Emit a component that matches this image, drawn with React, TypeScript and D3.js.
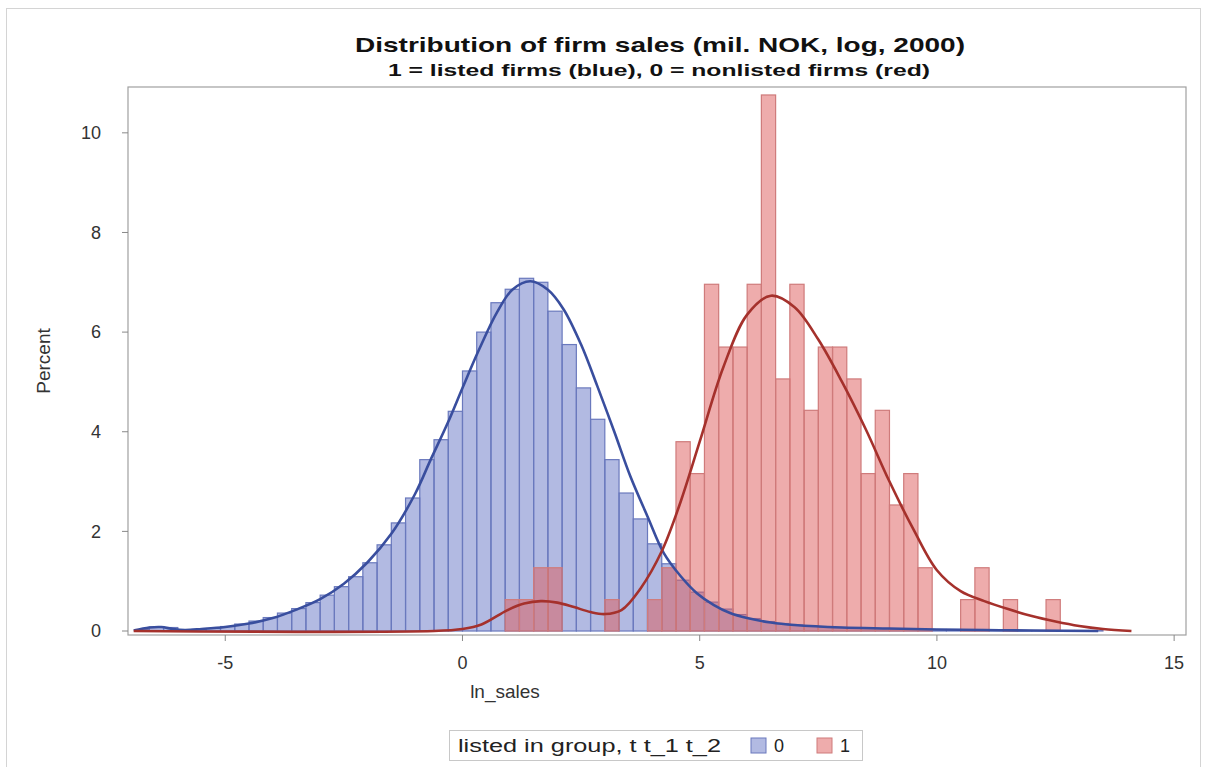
import * as d3 from "d3";

// histogram bins (lower edges, width 0.3) shared by both groups
const binWidth = 0.3;
const binStarts = d3.range(68).map((i) => +(-6.9 + i * binWidth).toFixed(1));

// percent of firms in each bin, group 0 (blue)
const blueBars = [
	0.03, 0.08, 0.07, 0.02, 0.03, 0.05, 0.09, 0.14, 0.2, 0.27, 0.36, 0.45, 0.57,
	0.72, 0.89, 1.09, 1.37, 1.73, 2.17, 2.67, 3.44, 3.84, 4.41,
	5.22, 6.0, 6.59, 6.86, 7.08, 7.0, 6.42, 5.75, 4.88, 4.25, 3.44, 2.77, 2.25,
	1.75, 1.35, 1.02, 0.78, 0.58, 0.44, 0.33, 0.25, 0.19, 0.15, 0.12, 0.1, 0.08,
	0.07, 0.06, 0.05, 0.05, 0.04, 0.04, 0.03, 0.03, 0.03, 0.02, 0.02, 0.02, 0.02,
	0.01, 0.01, 0.01, 0.01, 0.01, 0.01,
];

// group 1 (red)
const redBars = [
	0, 0, 0, 0, 0, 0, 0, 0, 0, 0, 0, 0, 0, 0, 0, 0, 0, 0, 0, 0, 0, 0, 0,
	0, 0, 0, 0.63, 0.63, 1.27, 1.27, 0, 0, 0, 0.63, 0, 0, 0.63, 1.27, 3.8, 3.16,
	6.96, 5.7, 5.7, 6.96, 10.76, 5.06, 6.96, 4.43, 5.7, 5.7, 5.06, 3.16, 4.43,
	2.53, 3.16, 1.27, 0, 0, 0.63, 1.27, 0, 0.63, 0, 0, 0.63, 0, 0, 0,
];

// kernel density curves, [ln_sales, percent]
const blueCurve: [number, number][] = [
	[-6.93, 0.01], [-6.6, 0.07], [-6.35, 0.08], [-6.1, 0.04], [-5.85, 0.02],
	[-5.5, 0.04], [-5.0, 0.08], [-4.5, 0.15], [-4.0, 0.26], [-3.5, 0.43],
	[-3.0, 0.64], [-2.5, 0.95], [-2.0, 1.38], [-1.5, 1.95], [-1.0, 2.75],
	[-0.67, 3.44], [-0.3, 4.2], [0.0, 4.88], [0.35, 5.65], [0.73, 6.4],
	[1.05, 6.85], [1.43, 7.02], [1.8, 6.85], [2.13, 6.46], [2.5, 5.75],
	[2.84, 4.92], [3.2, 4.0], [3.54, 3.1], [3.9, 2.3], [4.24, 1.57], [4.6, 1.1],
	[4.94, 0.76], [5.3, 0.52], [5.64, 0.36], [6.0, 0.26], [6.5, 0.17],
	[7.0, 0.12], [8.0, 0.07], [9.0, 0.05], [10.0, 0.03], [11.0, 0.02],
	[12.0, 0.01], [13.4, 0.0],
];

const redCurve: [number, number][] = [
	[-6.93, 0], [-0.6, 0.0], [0.0, 0.04], [0.4, 0.13], [0.95, 0.42], [1.3, 0.55],
	[1.65, 0.6], [2.0, 0.57], [2.35, 0.48], [2.7, 0.38], [3.0, 0.34],
	[3.35, 0.42], [3.75, 0.85], [4.2, 1.6], [4.6, 2.6], [5.0, 3.8],
	[5.5, 5.3], [6.0, 6.35], [6.5, 6.73], [7.0, 6.5], [7.5, 5.85], [8.0, 5.0],
	[8.5, 4.05], [9.0, 3.0], [9.5, 2.05], [10.0, 1.22], [10.5, 0.8],
	[11.0, 0.6], [11.5, 0.44], [12.0, 0.3], [12.5, 0.19], [13.0, 0.1],
	[13.5, 0.04], [14.1, 0.0],
];

const xTicks = [-5, 0, 5, 10, 15];
const yTicks = [0, 2, 4, 6, 8, 10];
const legendItems = ["0", "1"];

const W = 1205;
const H = 767;
const plot = { left: 128, right: 1186, top: 87, bottom: 635 };
const font = "'Liberation Sans', Arial, sans-serif";

function App() {
	const x = d3.scaleLinear().domain([-7.05, 15.25]).range([plot.left, plot.right]);
	const y = d3.scaleLinear().domain([-0.08, 10.92]).range([plot.bottom, plot.top]);
	const line = d3
		.line<[number, number]>()
		.x((d) => x(d[0]))
		.y((d) => y(d[1]))
		.curve(d3.curveCatmullRom.alpha(0.5));

	const groups = [
		{ values: blueBars, fill: "#6576c6", stroke: "#6a79bd", curve: blueCurve, line: "#394e9e" },
		{ values: redBars, fill: "#de5a5a", stroke: "#cf7b7b", curve: redCurve, line: "#a5312c" },
	];

	return (
		<div style={{ position: "absolute", left: 0, top: 0 }}>
			<svg width={W} height={H} style={{ display: "block", background: "white" }}>
				<rect x={6.5} y={8.5} width={1194} height={770} fill="white" stroke="#d4d4d4" />
				<text x={660} y={52} textAnchor="middle" fontFamily={font} fontWeight="bold" fontSize={21}
					textLength={610} lengthAdjust="spacingAndGlyphs" fill="#111">
					Distribution of firm sales (mil. NOK, log, 2000)
				</text>
				<text x={659} y={76} textAnchor="middle" fontFamily={font} fontWeight="bold" fontSize={17}
					textLength={542} lengthAdjust="spacingAndGlyphs" fill="#111">
					1 = listed firms (blue), 0 = nonlisted firms (red)
				</text>

				{groups.map((g, gi) => (
					<g key={"bars" + gi}>
						{g.values.map((v, i) =>
							v > 0 ? (
								<rect
									key={i}
									x={x(binStarts[i])}
									y={y(v)}
									width={x(binStarts[i] + binWidth) - x(binStarts[i])}
									height={y(0) - y(v)}
									fill={g.fill}
									fillOpacity={0.5}
									stroke={g.stroke}
									strokeWidth={1.2}
								/>
							) : null
						)}
					</g>
				))}
				{groups.map((g, gi) => (
					<path key={"curve" + gi} d={line(g.curve) || ""} fill="none" stroke={g.line} strokeWidth={2.6} />
				))}

				<rect x={plot.left} y={plot.top} width={plot.right - plot.left} height={plot.bottom - plot.top}
					fill="none" stroke="#a0a0a0" strokeWidth={1.2} />

				{yTicks.map((t) => (
					<g key={"y" + t}>
						<line x1={plot.left - 6} x2={plot.left} y1={y(t)} y2={y(t)} stroke="#888" />
						<text x={plot.left - 27} y={y(t)} dy="0.35em" textAnchor="end" fontFamily={font}
							fontSize={18} fill="#333">{t}</text>
					</g>
				))}
				{xTicks.map((t) => (
					<g key={"x" + t}>
						<line x1={x(t)} x2={x(t)} y1={plot.bottom} y2={plot.bottom + 6} stroke="#888" />
						<text x={x(t)} y={plot.bottom + 34} textAnchor="middle" fontFamily={font}
							fontSize={18} fill="#333">{t}</text>
					</g>
				))}
				<text x={505} y={698} textAnchor="middle" fontFamily={font} fontSize={19} fill="#333">ln_sales</text>
				<text transform={`translate(50,${(plot.top + plot.bottom) / 2}) rotate(-90)`} textAnchor="middle"
					fontFamily={font} fontSize={19} fill="#333">Percent</text>

				<g>
					<rect x={449.5} y={730.5} width={413} height={30} fill="white" stroke="#c8c8c8" />
					<text x={458} y={752} fontFamily={font} fontSize={18} textLength={263}
						lengthAdjust="spacingAndGlyphs" fill="#222">listed in group, t t_1 t_2</text>
					{legendItems.map((label, i) => (
						<g key={label} transform={`translate(${751 + i * 66},738)`}>
							<rect x={0} y={0} width={15} height={15} fill={groups[i].fill} fillOpacity={0.5}
								stroke={groups[i].stroke} />
							<text x={23} y={14} fontFamily={font} fontSize={18} fill="#222">{label}</text>
						</g>
					))}
				</g>
			</svg>
		</div>
	);
}

export default App;
